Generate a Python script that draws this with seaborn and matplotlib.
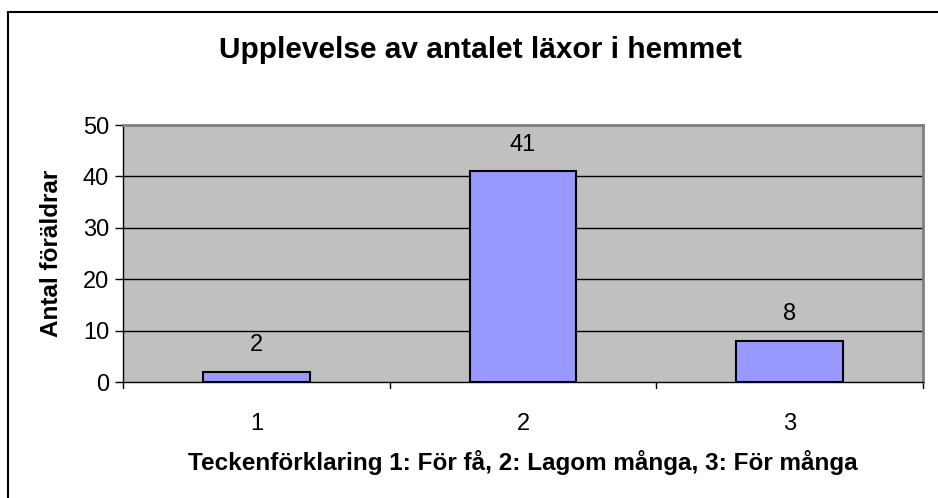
import matplotlib
matplotlib.use("Agg")
import matplotlib.pyplot as plt
import seaborn as sns
import pandas as pd

categories = ["1", "2", "3"]
values = [2, 41, 8]
yticks = [0, 10, 20, 30, 40, 50]
title = "Upplevelse av antalet läxor i hemmet"
xlabel = "Teckenförklaring 1: För få, 2: Lagom många, 3: För många"
ylabel = "Antal föräldrar"

sns.set_theme(style="white")
plt.rcParams['font.family'] = ['Liberation Sans', 'DejaVu Sans']

df = pd.DataFrame({"cat": categories, "val": values})

fig = plt.figure(figsize=(9.38, 4.98), dpi=100)
ax = fig.add_axes([123/938, 1 - 382/498, 800/938, 257/498])
ax.set_facecolor("#C0C0C0")

sns.barplot(data=df, x="cat", y="val", color="#9999FF", edgecolor="black",
            linewidth=1.5, width=0.4, saturation=1, ax=ax, zorder=3)

ax.set_ylim(0, 50)
ax.set_xlim(-0.5, 2.5)
ax.set_yticks(yticks)
for y in yticks[1:-1]:
    ax.axhline(y, color="black", linewidth=1, zorder=1)

for i, v in enumerate(values):
    ax.text(i, v + 3, str(v), ha="center", va="bottom", fontsize=17, color="black")

ax.tick_params(axis="y", labelsize=17, length=6, width=1, direction="out", left=True, pad=4, colors="black")
ax.set_xticks([0, 1, 2])
ax.set_xticklabels(categories, fontsize=17)
ax.tick_params(axis="x", length=0, pad=22, colors="black")
for b in [-0.5, 0.5, 1.5, 2.5]:
    ax.plot([b, b], [0, -0.025], transform=ax.get_xaxis_transform(), color="black",
            linewidth=1, clip_on=False)

for s in ["top", "right"]:
    ax.spines[s].set_color("#808080")
    ax.spines[s].set_linewidth(2)
ax.spines["left"].set_color("black")
ax.spines["bottom"].set_color("black")
ax.spines["left"].set_linewidth(1)
ax.spines["bottom"].set_linewidth(1)

ax.set_xlabel(xlabel, fontsize=17.5, fontweight="bold", labelpad=11, color="black")
ax.set_ylabel(ylabel, fontsize=17.5, fontweight="bold", labelpad=14, color="black")

fig.text(480/938, 1 - 50/498, title, ha="center", va="center", fontsize=21.5,
         fontweight="bold", color="black")

# outer chart border (left and top visible)
fig.add_artist(plt.Line2D([8/938, 8/938], [0, 1 - 12/498], transform=fig.transFigure,
                          color="black", linewidth=1.5))
fig.add_artist(plt.Line2D([8/938, 1], [1 - 12/498, 1 - 12/498], transform=fig.transFigure,
                          color="black", linewidth=1.5))

fig.savefig("out.png", dpi=100, facecolor="white")
